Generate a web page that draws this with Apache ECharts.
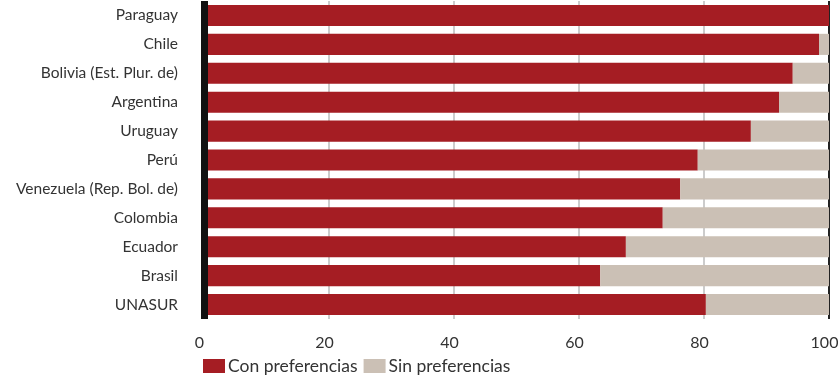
<!DOCTYPE html>
<html>
<head>
<meta charset="utf-8">
<script src="https://cdn.jsdelivr.net/npm/echarts@6/dist/echarts.min.js"></script>
<style>html,body{margin:0;padding:0;background:#fff;}#c{width:838px;height:375px;}</style>
</head>
<body>
<div id="c"></div>
<script>
var categories = ["Paraguay","Chile","Bolivia (Est. Plur. de)","Argentina","Uruguay","Perú","Venezuela (Rep. Bol. de)","Colombia","Ecuador","Brasil","UNASUR"];
var conPreferencias = [100, 98.4, 94.2, 92.0, 87.5, 79.0, 76.2, 73.4, 67.5, 63.4, 80.3];
var sinPreferencias = [0, 1.6, 5.8, 8.0, 12.5, 21.0, 23.8, 26.6, 32.5, 36.6, 19.7];
var xTicks = [0, 20, 40, 60, 80, 100];

var chart = echarts.init(document.getElementById('c'));
var font = 'Lato, "DejaVu Sans", sans-serif';
chart.setOption({
  animation: false,
  textStyle: {fontFamily: font},
  grid: {left: 204, right: 9, top: 1, bottom: 56, containLabel: false, outerBoundsMode: 'none'},
  legend: {
    left: 198, top: 352, itemWidth: 22, itemHeight: 14, itemGap: 6,
    icon: 'rect',
    textStyle: {fontSize: 17.5, color: '#333', fontFamily: font, padding: [0,0,0,-2]},
    data: ['Con preferencias','Sin preferencias']
  },
  xAxis: {
    type: 'value', min: xTicks[0], max: xTicks[xTicks.length-1], interval: 20,
    axisLine: {show: false}, axisTick: {show: false},
    axisLabel: {fontSize: 16, color: '#333', margin: 16, fontFamily: font, padding: [0, 9, 0, 0]},
    splitLine: {show: true, lineStyle: {color: ['#cccccc','#cccccc','#cccccc','#cccccc','#cccccc','#222'], width: 2}}
  },
  yAxis: {
    type: 'category', data: categories, inverse: true, z: 10,
    axisLine: {show: true, lineStyle: {color: '#111', width: 7, cap: 'butt'}},
    axisTick: {show: false},
    axisLabel: {fontSize: 15.5, color: '#333', margin: 26, fontFamily: font}
  },
  series: [
    {name: 'Con preferencias', type: 'bar', stack: 's', data: conPreferencias, barWidth: '73%', itemStyle: {color: '#A51D23'}},
    {name: 'Sin preferencias', type: 'bar', stack: 's', data: sinPreferencias, barWidth: '73%', itemStyle: {color: '#CBC0B5'}}
  ]
});
</script>
</body>
</html>
